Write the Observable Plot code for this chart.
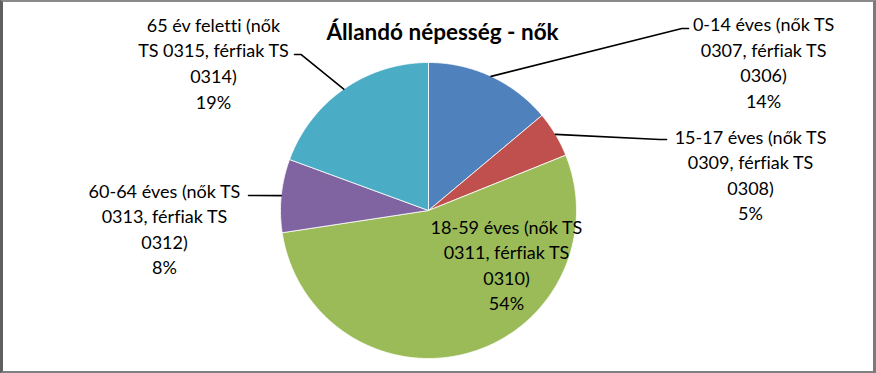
<!DOCTYPE html>
<html>
<head>
<meta charset="utf-8">
<script src="https://cdn.jsdelivr.net/npm/d3@7"></script>
<script src="https://cdn.jsdelivr.net/npm/@observablehq/plot@0.6"></script>
<style>
  html, body { margin: 0; padding: 0; background: #fff; }
  #wrap { position: relative; width: 876px; height: 373px; }
  #wrap svg text { font-variant-ligatures: none; font-feature-settings: "liga" 0; }
  #border { position: absolute; left: 0; top: 0; width: 876px; height: 373px; box-sizing: border-box;
            border-left: 3px solid #5f5f5f; border-top: 2px solid #8a8a8a; border-right: 3px solid #7a7a7a; border-bottom: 2px solid #7f7f7f;
            pointer-events: none; }
</style>
</head>
<body>
<div id="wrap"><div id="border"></div></div>
<script>
// ---- data ----
const title = "Állandó népesség - nők";
const categories = [
  "0-14 éves (nők TS\n0307, férfiak TS\n0306)",
  "15-17 éves (nők TS\n0309, férfiak TS\n0308)",
  "18-59 éves (nők TS\n0311, férfiak TS\n0310)",
  "60-64 éves (nők TS\n0313, férfiak TS\n0312)",
  "65 év feletti (nők\nTS 0315, férfiak TS\n0314)"
];
const values = [13.9, 5.0, 53.7, 8.0, 19.4];
const colors = ["#4F81BD", "#C0504D", "#9BBB59", "#8064A2", "#4BACC6"];

// ---- label layout (in pie-radius units, relative to the pie centre) ----
const labelX = [2.264, 2.176, 0.527, -1.784, -1.453];
const labelY = [1.008, 0.247, -0.361, -0.118, 1.003];
// leader line end points (null = label inside slice)
const leaderEnd = [[1.757, 1.230, 1], [1.608, 0.480, 1], null, [-1.216, 0.101, -1], [-0.905, 1.054, -1]];

// ---- geometry ----
const total = d3.sum(values);
let cum = 0;
const slices = values.map((v, i) => {
  const a0 = cum / total * 2 * Math.PI;
  cum += v;
  const a1 = cum / total * 2 * Math.PI;
  return {cat: categories[i], v, a0, a1, mid: (a0 + a1) / 2, i};
});
const arcPts = [];
for (const s of slices) {
  arcPts.push({cat: s.cat, x: 0, y: 0});
  const n = Math.max(2, Math.ceil((s.a1 - s.a0) / (Math.PI / 360)));
  for (let k = 0; k <= n; k++) {
    const a = s.a0 + (s.a1 - s.a0) * k / n;
    arcPts.push({cat: s.cat, x: Math.sin(a), y: Math.cos(a)});
  }
  arcPts.push({cat: s.cat, x: 0, y: 0});
}
const leaderPts = [];
slices.forEach((s, i) => {
  const e = leaderEnd[i];
  if (!e) return;
  leaderPts.push({k: i, x: Math.sin(s.mid), y: Math.cos(s.mid)});
  leaderPts.push({k: i, x: e[0] - e[2] * 0.045, y: e[1]});
  leaderPts.push({k: i, x: e[0], y: e[1]});
});
const labels = slices.map((s, i) => ({
  x: labelX[i], y: labelY[i],
  text: s.cat + "\n" + Math.round(s.v / total * 100) + "%"
}));

const chart = Plot.plot({
  width: 876,
  height: 373,
  marginLeft: 280,
  marginRight: 300,
  marginTop: 62,
  marginBottom: 15,
  x: {domain: [-1, 1], axis: null},
  y: {domain: [-1, 1], axis: null},
  color: {domain: categories, range: colors},
  style: {fontFamily: "Lato, sans-serif", background: "#fff", overflow: "visible"},
  marks: [
    Plot.line(arcPts, {x: "x", y: "y", z: "cat", fill: "cat", stroke: "#fff", strokeWidth: 0.8, curve: "linear"}),
    Plot.line(leaderPts, {x: "x", y: "y", z: "k", stroke: "#000", strokeWidth: 1.6, curve: "linear"}),
    Plot.text(labels, {x: "x", y: "y", text: "text", fontSize: 18, lineHeight: 1.42, fill: "#000", textAnchor: "middle", lineAnchor: "middle"}),
    Plot.text([title], {frameAnchor: "top", dx: 14, dy: -30, text: d => d, fontSize: 22.5, fontWeight: "bold", fill: "#000", lineAnchor: "middle"})
  ]
});
document.getElementById("wrap").insertBefore(chart, document.getElementById("border"));
</script>
</body>
</html>
